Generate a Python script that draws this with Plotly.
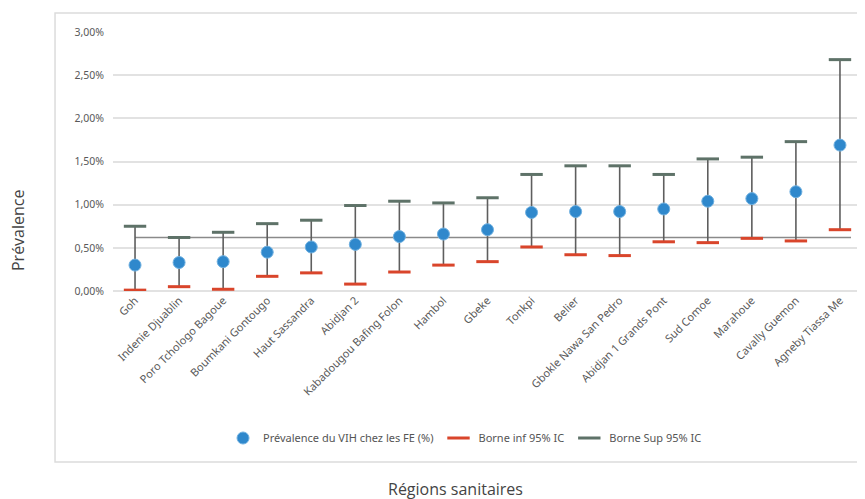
import plotly.graph_objects as go

regions = ["Goh", "Indenie Djuablin", "Poro Tchologo Bagoue", "Boumkani Gontougo",
           "Haut Sassandra", "Abidjan 2", "Kabadougou Bafing Folon", "Hambol", "Gbeke",
           "Tonkpi", "Belier", "Gbokle Nawa San Pedro", "Abidjan 1 Grands Pont",
           "Sud Comoe", "Marahoue", "Cavally Guemon", "Agneby Tiassa Me"]
prevalence = [0.30, 0.33, 0.34, 0.45, 0.51, 0.54, 0.63, 0.66, 0.71,
              0.91, 0.92, 0.92, 0.95, 1.04, 1.07, 1.15, 1.69]
borne_inf = [0.01, 0.05, 0.02, 0.17, 0.21, 0.08, 0.22, 0.30, 0.34,
             0.51, 0.42, 0.41, 0.57, 0.56, 0.61, 0.58, 0.71]
borne_sup = [0.75, 0.62, 0.68, 0.78, 0.82, 0.99, 1.04, 1.02, 1.08,
             1.35, 1.45, 1.45, 1.35, 1.53, 1.55, 1.73, 2.68]
moyenne = 0.62
y_ticks = [0, 0.5, 1.0, 1.5, 2.0, 2.5, 3.0]
y_ticktext = [f"{v:.2f}%".replace(".", ",") for v in y_ticks]

err_plus = [s - p for s, p in zip(borne_sup, prevalence)]
err_minus = [p - i for p, i in zip(prevalence, borne_inf)]

fig = go.Figure()
fig.add_trace(go.Scatter(
    x=regions, y=prevalence, mode="markers",
    name="Prévalence du VIH chez les FE (%)",
    marker=dict(color="#2f88cc", size=12, line=dict(color="#6fb0e0", width=1)),
    error_y=dict(type="data", symmetric=False, array=err_plus, arrayminus=err_minus,
                 color="#5e5e5e", thickness=1.6, width=0),
))
fig.add_trace(go.Scatter(
    x=regions, y=borne_inf, mode="markers", name="Borne inf 95% IC",
    marker=dict(symbol="line-ew", size=16, line=dict(color="#d9452b", width=3)),
))
fig.add_trace(go.Scatter(
    x=regions, y=borne_sup, mode="markers", name="Borne Sup 95% IC",
    marker=dict(symbol="line-ew", size=16, line=dict(color="#5e7268", width=3)),
))

fig.add_shape(type="line", xref="x", yref="y", x0=0, x1=len(regions) - 0.75,
              y0=moyenne, y1=moyenne, line=dict(color="#8a8a8a", width=1.5), layer="below")

# outer chart frame
fig.add_shape(type="rect", xref="paper", yref="paper",
              x0=-0.0774, x1=1.0013, y0=-0.660, y1=1.073,
              line=dict(color="#dcdcdc", width=1.5), layer="below")

fig.add_annotation(text="Prévalence", xref="paper", yref="paper", x=-0.1268, y=0.2355,
                   textangle=-90, showarrow=False, xanchor="center", yanchor="middle",
                   font=dict(family="Open Sans", size=16, color="#444444"))
fig.add_annotation(text="Régions sanitaires", xref="paper", yref="paper", x=0.457, y=-0.7645,
                   showarrow=False, xanchor="center", yanchor="middle",
                   font=dict(family="Open Sans", size=16, color="#444444"))

fig.update_layout(
    width=857, height=491,
    margin=dict(l=105, r=3, t=24, b=208, autoexpand=False),
    paper_bgcolor="white", plot_bgcolor="white",
    showlegend=True,
    legend=dict(orientation="h", x=0.47, y=-0.5676, xanchor="center", yanchor="middle",
                font=dict(family="Noto Sans", size=11, color="#555555"),
                itemwidth=30, tracegroupgap=0, bgcolor="rgba(0,0,0,0)"),
    font=dict(family="Noto Sans", size=11, color="#595959"),
)
fig.update_xaxes(type="category", tickangle=-45, showgrid=False, showline=False,
                 ticks="", tickfont=dict(size=11, color="#595959"),
                 range=[-0.5, len(regions) - 0.5], automargin=False)
fig.update_yaxes(range=[0, 3.0], tickvals=y_ticks, ticktext=y_ticktext,
                 showgrid=True, gridcolor="#e2e2e2", gridwidth=1.5, zeroline=True,
                 zerolinecolor="#e2e2e2", zerolinewidth=1.5, showline=False, ticks="",
                 ticklabelstandoff=8, tickfont=dict(size=10.5, color="#595959"),
                 automargin=False)

fig.write_html("out.html")
